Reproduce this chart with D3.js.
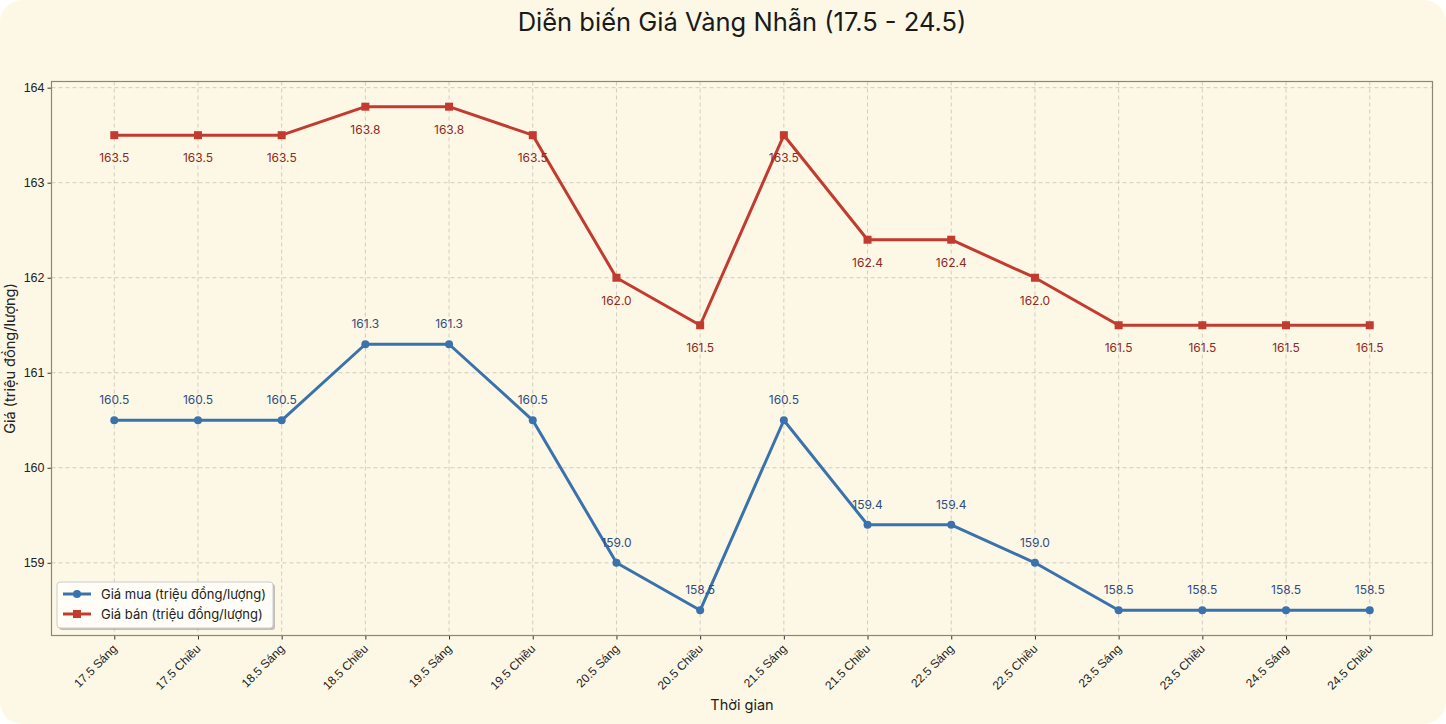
<!DOCTYPE html>
<html><head><meta charset="utf-8">
<script src="https://cdn.jsdelivr.net/npm/d3@7"></script>
<style>
html,body{margin:0;padding:0;background:#ffffff;}
svg{display:block;font-family:"Inter","Noto Sans",sans-serif;}
</style></head><body>
<svg id="c" width="1446" height="724"></svg>
<script>
const categories = ["17.5 Sáng","17.5 Chiều","18.5 Sáng","18.5 Chiều","19.5 Sáng","19.5 Chiều","20.5 Sáng","20.5 Chiều","21.5 Sáng","21.5 Chiều","22.5 Sáng","22.5 Chiều","23.5 Sáng","23.5 Chiều","24.5 Sáng","24.5 Chiều"];
const buyPrices = [160.5,160.5,160.5,161.3,161.3,160.5,159.0,158.5,160.5,159.4,159.4,159.0,158.5,158.5,158.5,158.5];
const sellPrices = [163.5,163.5,163.5,163.8,163.8,163.5,162.0,161.5,163.5,162.4,162.4,162.0,161.5,161.5,161.5,161.5];
const yTicks = [159,160,161,162,163,164];
const seriesNames = ["Giá mua (triệu đồng/lượng)","Giá bán (triệu đồng/lượng)"];

const W=1446,H=724;
const svg=d3.select("#c");
svg.append("rect").attr("x",0).attr("y",0).attr("width",W).attr("height",H).attr("rx",22).attr("fill","#fdf8e6");

const L=51.5,R=1432.5,T=81.5,B=635.5;
const all=buyPrices.concat(sellPrices);
const ymin=d3.min(all),ymax=d3.max(all),pad=(ymax-ymin)*0.05;
const n=categories.length;
const x=d3.scaleLinear().domain([-0.75,n-1+0.75]).range([L,R]);
const y=d3.scaleLinear().domain([ymin-pad,ymax+pad]).range([B,T]);

svg.append("text").attr("x",742).attr("y",31).attr("text-anchor","middle").attr("font-size",25.5).attr("fill","#1a1a1a").text("Diễn biến Giá Vàng Nhẫn (17.5 - 24.5)");

const g=svg.append("g");
g.selectAll(".gx").data(d3.range(n)).enter().append("line").attr("x1",d=>x(d)).attr("x2",d=>x(d)).attr("y1",T).attr("y2",B).attr("stroke","#c4c2b6").attr("stroke-dasharray","4,3").attr("stroke-width",0.8);
g.selectAll(".gy").data(yTicks).enter().append("line").attr("x1",L).attr("x2",R).attr("y1",d=>y(d)).attr("y2",d=>y(d)).attr("stroke","#c4c2b6").attr("stroke-dasharray","4,3").attr("stroke-width",0.8);

const xa=d3.axisBottom(x).tickValues(d3.range(n)).tickFormat(i=>categories[i]).tickSize(4).tickSizeOuter(0);
const xg=svg.append("g").attr("transform",`translate(0,${B})`).call(xa);
xg.select(".domain").remove();
xg.selectAll(".tick line").attr("stroke","#333");
xg.selectAll(".tick text").attr("font-size",12).attr("fill","#222").attr("text-anchor","end").attr("dx",0).attr("dy",0)
  .attr("transform","translate(3,14) rotate(-45)").attr("y",0);
const ya=d3.axisLeft(y).tickValues(yTicks).tickFormat(d3.format("d")).tickSize(4).tickSizeOuter(0);
const yg=svg.append("g").attr("transform",`translate(${L},0)`).call(ya);
yg.select(".domain").remove();
yg.selectAll(".tick line").attr("stroke","#333");
yg.selectAll(".tick text").attr("font-size",12.5).attr("fill","#222").attr("x",-7);

svg.append("rect").attr("x",L).attr("y",T).attr("width",R-L).attr("height",B-T).attr("fill","none").attr("stroke","#8a8778").attr("stroke-width",1.2);

svg.append("text").attr("x",742).attr("y",710).attr("text-anchor","middle").attr("font-size",14.5).attr("fill","#222").text("Thời gian");
svg.append("text").attr("transform",`translate(15,${(T+B)/2}) rotate(-90)`).attr("text-anchor","middle").attr("font-size",14.5).attr("fill","#222").text("Giá (triệu đồng/lượng)");

const blue="#3a72ad",red="#c23a30";
const line=d3.line().x((d,i)=>x(i)).y(d=>y(d));
svg.append("path").datum(buyPrices).attr("d",line).attr("fill","none").attr("stroke",blue).attr("stroke-width",3).attr("stroke-linejoin","round");
svg.append("path").datum(sellPrices).attr("d",line).attr("fill","none").attr("stroke",red).attr("stroke-width",3).attr("stroke-linejoin","round");
svg.selectAll(".bm").data(buyPrices).enter().append("circle").attr("cx",(d,i)=>x(i)).attr("cy",d=>y(d)).attr("r",4).attr("fill",blue);
svg.selectAll(".sm").data(sellPrices).enter().append("rect").attr("x",(d,i)=>x(i)-4).attr("y",d=>y(d)-4).attr("width",8).attr("height",8).attr("fill",red);

svg.selectAll(".bl").data(buyPrices).enter().append("text").attr("x",(d,i)=>x(i)).attr("y",d=>y(d)-16).attr("text-anchor","middle").attr("font-size",12).attr("fill","#2e4d85").text(d=>d.toFixed(1));
svg.selectAll(".sl").data(sellPrices).enter().append("text").attr("x",(d,i)=>x(i)).attr("y",d=>y(d)+27).attr("text-anchor","middle").attr("font-size",12).attr("fill","#8e2a22").text(d=>d.toFixed(1));

const lg=svg.append("g").attr("transform","translate(57,582)");
lg.append("rect").attr("x",2).attr("y",2).attr("width",216).attr("height",46).attr("rx",3).attr("fill","#999").attr("opacity",0.6);
lg.append("rect").attr("x",0).attr("y",0).attr("width",216).attr("height",46).attr("rx",3).attr("fill","#fffdf5").attr("stroke","#ccc");
[[blue,"c"],[red,"s"]].forEach((s,i)=>{
  const yy=12+i*20;
  lg.append("line").attr("x1",6).attr("x2",34).attr("y1",yy).attr("y2",yy).attr("stroke",s[0]).attr("stroke-width",3);
  if(s[1]==="c") lg.append("circle").attr("cx",20).attr("cy",yy).attr("r",4).attr("fill",s[0]);
  else lg.append("rect").attr("x",16).attr("y",yy-4).attr("width",8).attr("height",8).attr("fill",s[0]);
  lg.append("text").attr("x",44).attr("y",yy+4.5).attr("font-size",13).attr("fill","#222").text(seriesNames[i]);
});
</script></body></html>
